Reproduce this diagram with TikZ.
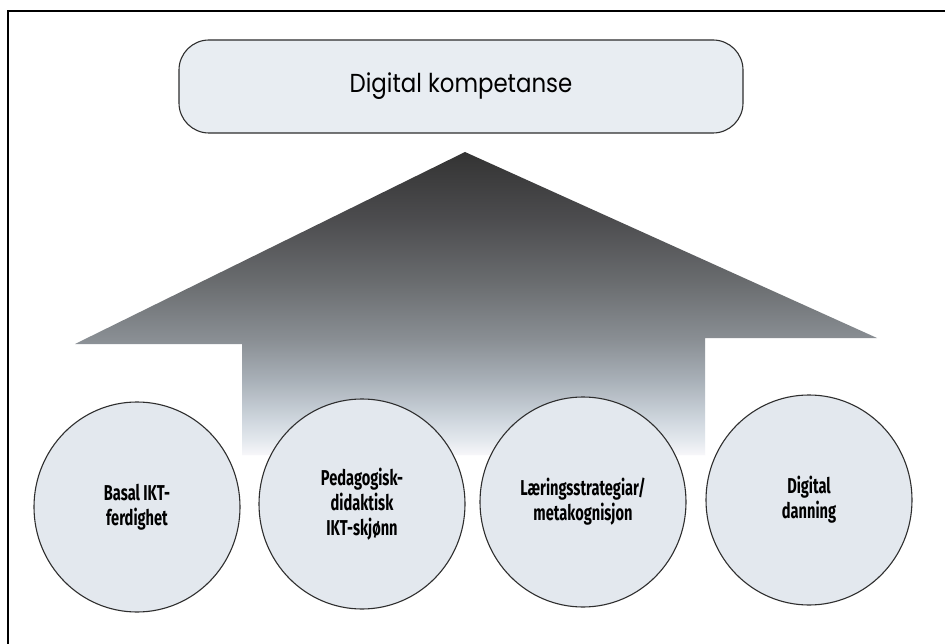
\documentclass[tikz,border=0pt]{standalone}
\usepackage{fontspec}
\usetikzlibrary{shapes.geometric}
\newfontfamily\titlefont[FakeStretch=0.88]{Poppins}
\newfontfamily\circfont[FakeStretch=0.68]{Fira Sans}
\definecolor{boxfill}{HTML}{E8EDF2}
\definecolor{circfill}{HTML}{E3E8EE}
\definecolor{edge}{HTML}{2E2E2E}
\pgfdeclareverticalshading{arrshade}{100bp}{%
  rgb(0bp)=(0.97,0.97,0.98);
  rgb(25bp)=(0.97,0.97,0.98);
  rgb(27.5bp)=(0.89,0.91,0.93);
  rgb(30.8bp)=(0.81,0.84,0.87);
  rgb(37.4bp)=(0.66,0.69,0.72);
  rgb(44bp)=(0.54,0.56,0.58);
  rgb(53.9bp)=(0.41,0.42,0.43);
  rgb(63.8bp)=(0.30,0.30,0.31);
  rgb(75bp)=(0.20,0.20,0.20);
  rgb(100bp)=(0.20,0.20,0.20)}
\tikzset{
  titlebox/.style={draw=edge, line width=1.1pt, fill=boxfill, rounded corners=30pt,
    minimum width=564pt, minimum height=93pt, inner sep=0pt,
    font=\titlefont\fontsize{26}{29}\selectfont},
  skill/.style={draw=edge, line width=1.1pt, fill=circfill, ellipse,
    minimum width=206pt, minimum height=210pt, inner sep=0pt, align=center,
    font=\circfont\bfseries\fontsize{21.5}{25}\selectfont},
  frameline/.style={line width=2.4pt, black}
}
\begin{document}
\begin{tikzpicture}[x=1pt,y=-1pt]
\useasboundingbox (0,0) rectangle (945,644);
\fill[white] (0,0) rectangle (945,644);
% frame
\coordinate (ftl) at (8,11);
\coordinate (ftr) at (945,11);
\coordinate (fbl) at (8,644);
\draw[frameline] (ftr) -- (ftl) -- (fbl);
% top box
\node[titlebox] (top) at (461,86.5) {Digital kompetanse};
% arrow
\shade[shading=arrshade] (465,152) -- (877,338) -- (705,338) -- (705,455)
  -- (242,455) -- (242,344) -- (75,344) -- cycle;
% circles
\node[skill] (c1) at (137,507) {Basal IKT-\\ferdighet};
\node[skill] (c2) at (362,504) {Pedagogisk-\\didaktisk\\IKT-skjønn};
\node[skill] (c3) at (583,502) {Læringsstrategiar/\\metakognisjon};
\node[skill] (c4) at (809,500) {Digital\\danning};
\end{tikzpicture}
\end{document}
